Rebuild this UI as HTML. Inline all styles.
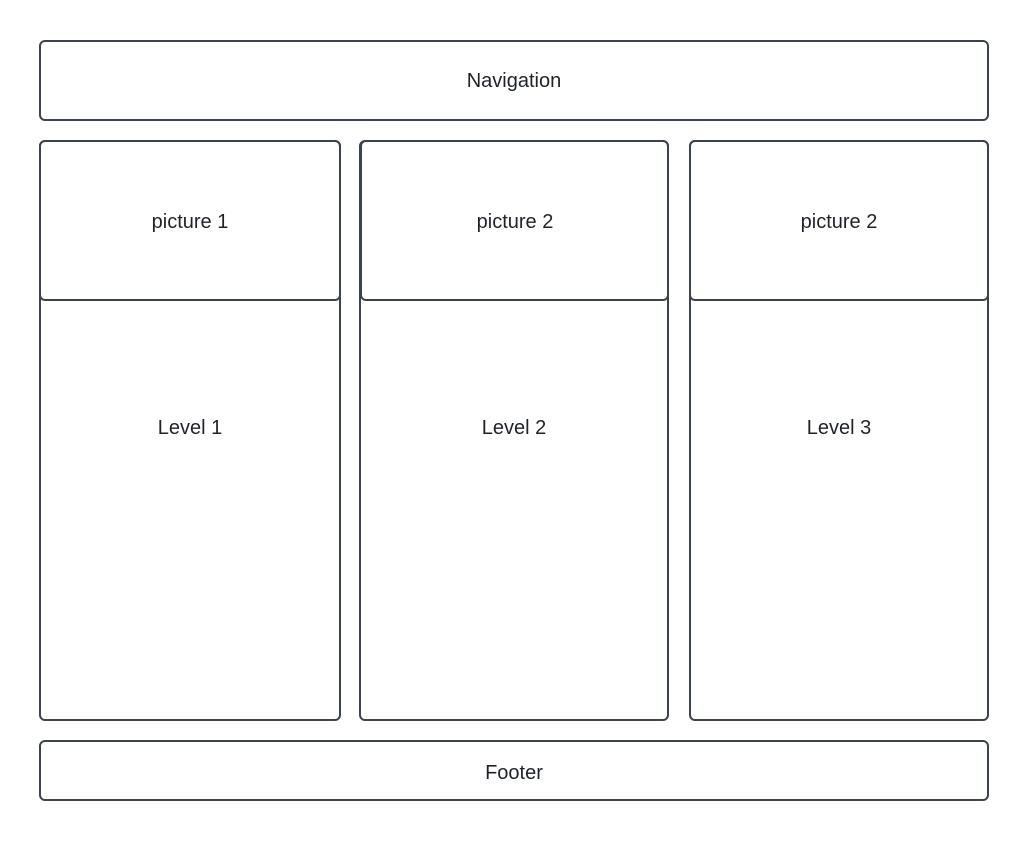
<!DOCTYPE html>
<html><head><meta charset="utf-8"><style>
html,body{margin:0;padding:0;background:#fff;}
svg{display:block;}
text{font-family:"Liberation Sans",sans-serif;font-size:20px;fill:#1f2329;}
</style></head><body>
<svg width="1029" height="841" viewBox="0 0 1029 841" xmlns="http://www.w3.org/2000/svg">
<g fill="none" stroke="#3d434d" stroke-width="2">
<rect x="40" y="41" width="948" height="79" rx="5"/>
<rect x="40" y="141" width="300" height="579" rx="5"/>
<rect x="40" y="141" width="300" height="159" rx="5"/>
<rect x="360" y="141" width="308" height="579" rx="5"/>
<rect x="361" y="141" width="307" height="159" rx="5"/>
<rect x="690" y="141" width="298" height="579" rx="5"/>
<rect x="690" y="141" width="298" height="159" rx="5"/>
<rect x="40" y="741" width="948" height="59" rx="5"/>
</g>
<g text-anchor="middle">
<text x="514" y="87">Navigation</text>
<text x="190" y="228">picture 1</text>
<text x="515" y="228">picture 2</text>
<text x="839" y="228">picture 2</text>
<text x="190" y="434">Level 1</text>
<text x="514" y="434">Level 2</text>
<text x="839" y="434">Level 3</text>
<text x="514" y="779">Footer</text>
</g>
</svg>
</body></html>
